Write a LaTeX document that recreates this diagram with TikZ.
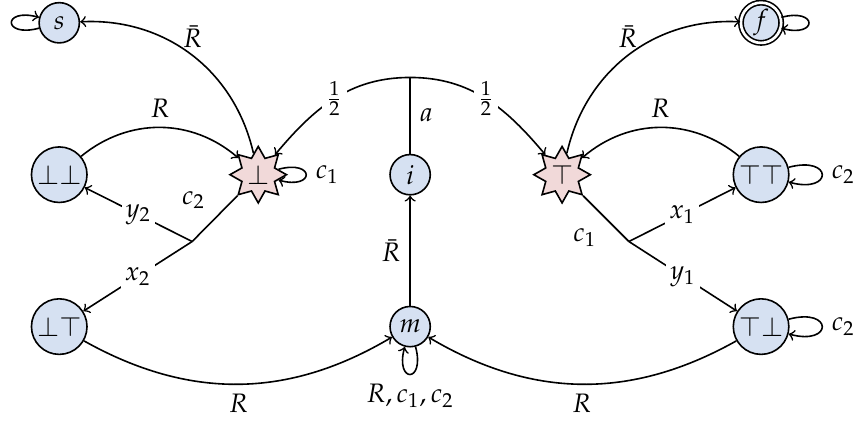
\documentclass[tikz,border=0pt]{standalone}
\usepackage{mathpazo}
\usepackage{xcolor}
\usepackage{tikz}
\usetikzlibrary{shapes.geometric, positioning}

\definecolor{stateblue}{HTML}{D6E1F2}
\definecolor{trapred}{HTML}{F1D9D9}

\begin{document}
\begin{tikzpicture}[
    semithick,
    state/.style={draw, circle, fill=stateblue, minimum size=0.53cm, inner sep=1pt},
    trap/.style={draw, star, star points=8, star point ratio=1.6, fill=trapred, minimum size=0.64cm, inner sep=0.5pt},
    final/.style={state, double, double distance=1pt},
    arrow/.style={->},
    midlabel/.style={fill=white, inner sep=1.5pt}
]
    \useasboundingbox (-5.40,-3.25) rectangle (5.87,2.30);

    \node (i) [state] {$i$};
    \node (bot) [trap, left of=i, node distance=2cm] {$\bot$};
    \node (top) [trap, right of=i, node distance=2cm] {$\top$};
    \node (bb) [state, left of=bot, node distance=2.62cm] {$\bot\bot$};
    \node (tt) [state, right of=top, node distance=2.62cm] {$\top\top$};
    \node (s) [state, above of=bb, node distance=2cm] {$s$};
    \node (f) [final, above of=tt, node distance=2cm] {$f$};
    \node (bt) [state, below of=bb, node distance=2cm] {$\bot\top$};
    \node (m) [state, below of=i, node distance=2cm] {$m$};
    \node (tb) [state, below of=tt, node distance=2cm] {$\top\bot$};

    \coordinate (split) at ([yshift=1.28cm]i.center);
    \coordinate (lfork) at ([shift={(-0.87,-0.88)}]bot.center);
    \coordinate (rfork) at ([shift={(0.88,-0.88)}]top.center);

    % self loops
    \draw [arrow] (s) to [loop left] (s);
    \draw [arrow] (f) to [loop right] (f);
    \draw [arrow] (bot) to [loop right] node [right] {$c_1$} (bot);
    \draw [arrow] (tt) to [loop right] node [right] {$c_2$} (tt);
    \draw [arrow] (tb) to [loop right] node [right] {$c_2$} (tb);
    \draw [arrow] (m) to [loop below] node [below] {$R, c_1, c_2$} (m);

    \draw [arrow] (bot) to [bend right=40] node [pos=0.55, above right, inner sep=0pt] {$\bar{R}$} (s);
    \draw [arrow] (top) to [bend left=40] node [pos=0.55, above left, inner sep=0pt] {$\bar{R}$} (f);
    \draw [arrow] (bb) to [bend left=40] node [above] {$R$} (bot);
    \draw [arrow] (tt) to [bend right=40] node [above] {$R$} (top);
    \draw [arrow] (bt) to [bend right=30] node [below] {$R$} (m);
    \draw [arrow] (tb) to [bend left=30] node [below] {$R$} (m);
    \draw [arrow] (m) -- node [left] {$\bar{R}$} (i);

    % action a from i
    \draw (i) -- node [right] {$a$} (split);
    \draw [arrow] (split) to [out=180, in=50] node [midlabel] {$\frac{1}{2}$} (bot);
    \draw [arrow] (split) to [out=0, in=130] node [midlabel] {$\frac{1}{2}$} (top);

    % forks
    \draw (bot) -- node [above left] {$c_2$} (lfork);
    \draw [arrow] (lfork) -- node [midlabel] {$y_2$} (bb);
    \draw [arrow] (lfork) -- node [midlabel] {$x_2$} (bt);
    \draw (top) -- node [below left] {$c_1$} (rfork);
    \draw [arrow] (rfork) -- node [midlabel] {$x_1$} (tt);
    \draw [arrow] (rfork) -- node [midlabel] {$y_1$} (tb);
\end{tikzpicture}
\end{document}
